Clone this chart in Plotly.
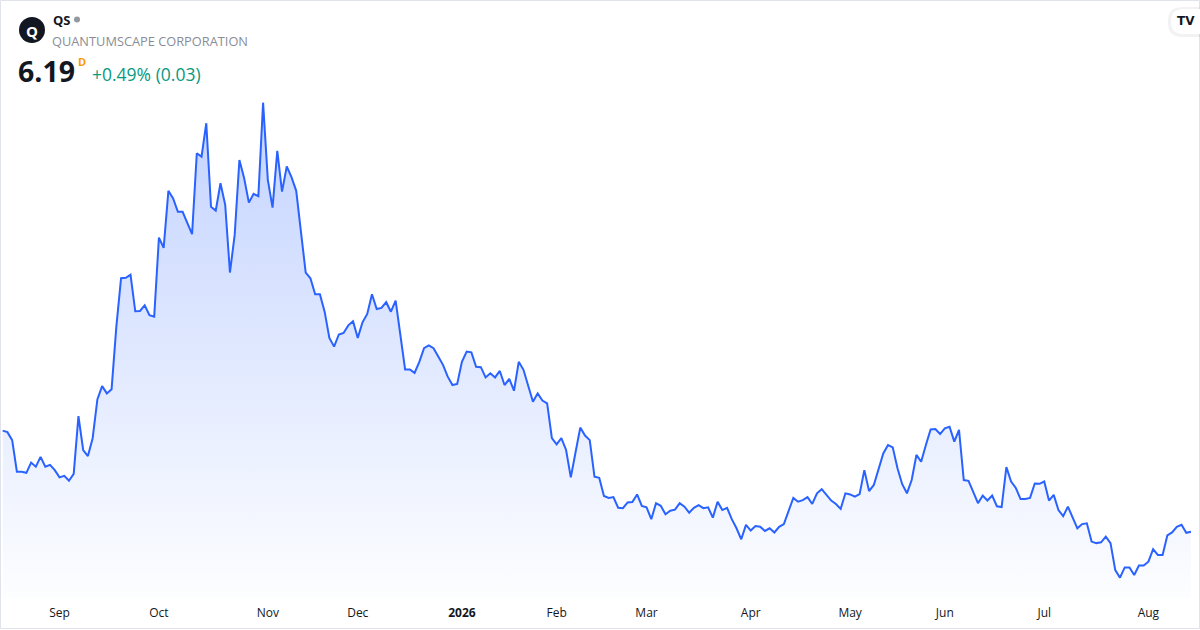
import pandas as pd
import plotly.graph_objects as go

# ---------------- data ----------------
holidays = ['2025-09-01', '2025-11-27', '2025-12-25', '2026-01-01', '2026-01-19',
            '2026-02-16', '2026-04-03', '2026-05-25', '2026-06-19', '2026-07-03']
start_date = '2025-08-14'
end_date = '2026-08-14'

prices = [
    8.85, 8.81, 8.60, 7.77, 7.77, 7.74, 8.01, 7.90, 8.16, 7.90,
    7.95, 7.81, 7.62, 7.66, 7.53, 7.71, 9.23, 8.34, 8.18, 8.65,
    9.67, 10.02, 9.83, 9.94, 11.58, 12.86, 12.87, 12.95, 11.99, 12.00,
    12.15, 11.89, 11.85, 13.93, 13.66, 15.16, 14.96, 14.61, 14.61, 14.31,
    14.02, 16.15, 16.06, 16.94, 14.74, 14.64, 15.36, 14.79, 13.01, 14.00,
    15.97, 15.49, 14.85, 15.08, 15.02, 17.48, 15.45, 14.72, 16.21, 15.14,
    15.80, 15.52, 15.16, 14.08, 13.01, 12.86, 12.44, 12.44, 11.98, 11.29,
    11.06, 11.38, 11.42, 11.62, 11.73, 11.29, 11.70, 11.92, 12.44, 12.05,
    12.08, 12.23, 11.98, 12.27, 11.37, 10.46, 10.46, 10.37, 10.66, 11.02,
    11.09, 11.02, 10.80, 10.58, 10.27, 10.05, 10.08, 10.66, 10.93, 10.91,
    10.53, 10.52, 10.25, 10.36, 10.25, 10.42, 10.05, 10.21, 9.90, 10.66,
    10.45, 10.05, 9.61, 9.83, 9.64, 9.57, 8.65, 8.49, 8.65, 8.34,
    7.62, 8.28, 8.93, 8.72, 8.60, 7.64, 7.61, 7.13, 7.08, 7.10,
    6.82, 6.81, 6.96, 6.97, 7.17, 6.87, 6.83, 6.52, 6.94, 6.87,
    6.65, 6.74, 6.77, 6.94, 6.85, 6.69, 6.82, 6.89, 6.81, 6.83,
    6.56, 6.98, 6.76, 6.82, 6.52, 6.28, 5.99, 6.37, 6.22, 6.34,
    6.32, 6.21, 6.28, 6.17, 6.32, 6.39, 6.76, 7.08, 6.98, 7.02,
    7.10, 6.92, 7.20, 7.31, 7.16, 7.01, 6.92, 6.79, 7.20, 7.17,
    7.11, 7.18, 7.81, 7.26, 7.42, 7.86, 8.25, 8.47, 8.41, 7.86,
    7.44, 7.20, 7.55, 8.21, 8.03, 8.47, 8.88, 8.89, 8.76, 8.91,
    8.95, 8.56, 8.87, 7.55, 7.53, 7.24, 6.94, 7.14, 7.01, 7.14,
    6.86, 6.84, 7.89, 7.51, 7.34, 7.05, 7.05, 7.08, 7.46, 7.45,
    7.51, 7.01, 7.16, 6.76, 6.60, 6.85, 6.54, 6.28, 6.39, 6.41,
    5.93, 5.89, 5.91, 6.06, 5.89, 5.18, 4.98, 5.25, 5.25, 5.05,
    5.30, 5.30, 5.40, 5.73, 5.58, 5.58, 6.09, 6.17, 6.32, 6.37,
    6.16, 6.19,
]

ticker = "QS"
company = "QUANTUMSCAPE CORPORATION"
last_price_text = "6.19"
change_text = "+0.49% (0.03)"
month_names = ['Jan', 'Feb', 'Mar', 'Apr', 'May', 'Jun',
               'Jul', 'Aug', 'Sep', 'Oct', 'Nov', 'Dec']

# ---------------- build ----------------
dates = pd.bdate_range(start_date, end_date, freq='C', holidays=holidays)
dates = list(dates)[:len(prices)]
x_labels = [d.strftime('%Y-%m-%d') for d in dates]

tickvals, ticktext = [], []
prev_month = dates[0].month
for d, s in zip(dates[1:], x_labels[1:]):
    if d.month != prev_month:
        tickvals.append(s)
        ticktext.append(f"<b>{d.year}</b>" if d.month == 1 else month_names[d.month - 1])
        prev_month = d.month

W, H = 1200, 630
PLOT_BOTTOM = 598          # px of plot bottom
PX_PER_UNIT = 38.0
y_top = 20.182
y_bottom = y_top - PLOT_BOTTOM / PX_PER_UNIT

n = len(prices)
fig = go.Figure()
fig.add_trace(go.Scatter(
    x=x_labels, y=prices, mode='lines',
    line=dict(color='#2962ff', width=2),
    fill='tozeroy',
    fillgradient=dict(type='vertical', start=y_bottom, stop=max(prices),
                      colorscale=[[0, 'rgba(41,98,255,0.01)'],
                                  [1, 'rgba(41,98,255,0.28)']]),
    hoverinfo='skip', showlegend=False,
))


def px(x):
    return x / W


def py(y):
    return 1 - y / PLOT_BOTTOM


def tab_path(x0, x1, y0, y1, r):
    return (f"M {px(x0 + r)},{py(y0)} L {px(x1)},{py(y0)} L {px(x1)},{py(y1)} "
            f"L {px(x0 + r)},{py(y1)} Q {px(x0)},{py(y1)} {px(x0)},{py(y1 - r)} "
            f"L {px(x0)},{py(y0 + r)} Q {px(x0)},{py(y0)} {px(x0 + r)},{py(y0)} Z")


font_main = "Open Sans"
shapes = [
    # outer card border
    dict(type='rect', xref='paper', yref='paper', x0=px(0.5), x1=px(1199.5),
         y0=py(628.5), y1=py(0.5), line=dict(color='#e0e3eb', width=1),
         fillcolor='rgba(0,0,0,0)', layer='above'),
    # logo circle
    dict(type='circle', xref='paper', yref='paper', x0=px(19), x1=px(45),
         y0=py(43), y1=py(17), fillcolor='#131722', line=dict(width=0)),
    # status dot
    dict(type='circle', xref='paper', yref='paper', x0=px(74), x1=px(80),
         y0=py(22.5), y1=py(16.5), fillcolor='#9598a1', line=dict(width=0)),
    # TV tab shadow + tab
    dict(type='path', xref='paper', yref='paper', path=tab_path(1168, 1206, 7, 37, 14),
         fillcolor='rgba(0,0,0,0.05)', line=dict(width=0), layer='above'),
    dict(type='path', xref='paper', yref='paper', path=tab_path(1171, 1206, 9, 34, 12),
         fillcolor='white', line=dict(width=0), layer='above'),
]


def ann(x, y, text, size, color, anchor='left', family=font_main):
    return dict(xref='paper', yref='paper', x=px(x), y=py(y), text=text,
                showarrow=False, xanchor=anchor, yanchor='middle',
                font=dict(family=family, size=size, color=color))


annotations = [
    ann(32, 30.5, "<b>Q</b>", 15, 'white', 'center'),
    ann(51, 20, f"<b>{ticker}</b>", 13, '#131722'),
    ann(50, 40.5, company, 12.8, '#8a8d96'),
    ann(16, 71, f"<b>{last_price_text}</b>", 28.5, '#131722'),
    ann(76, 61, "<b>D</b>", 11, '#ff9800'),
    ann(90, 74, change_text, 17.5, '#089981'),
    ann(1186, 21, "<b>TV</b>", 12, '#131722', 'center', "DejaVu Sans"),
]

fig.update_layout(
    width=W, height=H,
    margin=dict(l=0, r=0, t=0, b=H - PLOT_BOTTOM),
    paper_bgcolor='white', plot_bgcolor='white',
    xaxis=dict(type='category', range=[-0.57, n - 1 + 1.9],
               tickmode='array', tickvals=tickvals, ticktext=ticktext,
               showgrid=False, zeroline=False, showline=False, ticks='',
               tickfont=dict(family=font_main, size=12, color='#131722'),
               ticklabelstandoff=6),
    yaxis=dict(range=[y_bottom, y_top], visible=False, showgrid=False, zeroline=False),
    shapes=shapes, annotations=annotations,
    showlegend=False,
)

fig.write_html("out.html", config={'displayModeBar': False},
               post_script="document.body.style.margin='0';document.body.style.padding='0';")
